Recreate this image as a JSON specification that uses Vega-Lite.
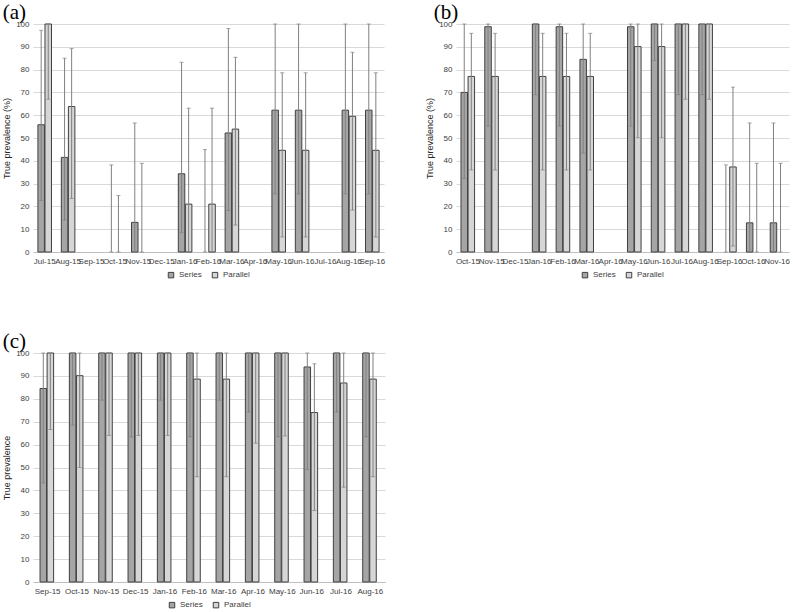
{
  "$schema": "https://vega.github.io/schema/vega-lite/v6.json",
  "padding": {"left": 2, "top": 2, "right": 2, "bottom": 0},
  "config": {
    "font": "Liberation Sans Narrow, Liberation Sans",
    "view": {"stroke": null},
    "axis": {"labelFontSize": 8, "labelColor": "#404040", "titleFontSize": 9, "titleFontWeight": "normal", "titleColor": "#262626", "gridColor": "#d9d9d9", "domainColor": "#bfbfbf", "tickColor": "#bfbfbf", "labelOverlap": false},
    "axisX": {"labelAngle": 0, "ticks": false, "grid": false, "labelOverlap": false, "labelPadding": 5},
    "axisY": {"domain": false, "ticks": false, "labelPadding": 4, "titlePadding": 4, "labelOverlap": false},
    "legend": {"orient": "bottom", "direction": "horizontal", "labelFontSize": 8, "labelColor": "#404040", "symbolType": "square", "symbolSize": 30, "symbolStrokeColor": "#404040", "symbolStrokeWidth": 1, "columnPadding": 8, "offset": 6, "layout": {"bottom": {"anchor": "middle"}}},
    "title": {"font": "Liberation Serif", "fontSize": 21, "fontWeight": "normal", "anchor": "start", "frame": "bounds", "color": "black", "offset": -3}
  },
  "datasets": {
    "a": [
      {"m": "Jul-15", "s": "Series", "v": 55.8, "lo": 22.6, "hi": 97.2},
      {"m": "Jul-15", "s": "Parallel", "v": 100, "lo": 67, "hi": 100},
      {"m": "Aug-15", "s": "Series", "v": 41.5, "lo": 14, "hi": 85},
      {"m": "Aug-15", "s": "Parallel", "v": 63.8, "lo": 23.5, "hi": 89.2},
      {"m": "Oct-15", "s": "Series", "v": null, "lo": 0, "hi": 38.2},
      {"m": "Oct-15", "s": "Parallel", "v": null, "lo": 0, "hi": 24.8},
      {"m": "Nov-15", "s": "Series", "v": 13, "lo": 0, "hi": 56.6},
      {"m": "Nov-15", "s": "Parallel", "v": null, "lo": 0, "hi": 38.9},
      {"m": "Jan-16", "s": "Series", "v": 34.3, "lo": 8.5, "hi": 83.2},
      {"m": "Jan-16", "s": "Parallel", "v": 21, "lo": 0, "hi": 63.1},
      {"m": "Feb-16", "s": "Series", "v": null, "lo": 0, "hi": 44.9},
      {"m": "Feb-16", "s": "Parallel", "v": 21, "lo": 0, "hi": 63.1},
      {"m": "Mar-16", "s": "Series", "v": 52.2, "lo": 18.2, "hi": 98},
      {"m": "Mar-16", "s": "Parallel", "v": 53.9, "lo": 11.8, "hi": 85.4},
      {"m": "May-16", "s": "Series", "v": 62.2, "lo": 25.5, "hi": 100},
      {"m": "May-16", "s": "Parallel", "v": 44.6, "lo": 6.6, "hi": 78.6},
      {"m": "Jun-16", "s": "Series", "v": 62.2, "lo": 25.5, "hi": 100},
      {"m": "Jun-16", "s": "Parallel", "v": 44.6, "lo": 6.6, "hi": 78.6},
      {"m": "Aug-16", "s": "Series", "v": 62.2, "lo": 25.5, "hi": 100},
      {"m": "Aug-16", "s": "Parallel", "v": 59.5, "lo": 18.4, "hi": 87.6},
      {"m": "Sep-16", "s": "Series", "v": 62.2, "lo": 25.5, "hi": 100},
      {"m": "Sep-16", "s": "Parallel", "v": 44.6, "lo": 6.6, "hi": 78.6}
    ],
    "b": [
      {"m": "Oct-15", "s": "Series", "v": 70, "lo": 32.2, "hi": 100},
      {"m": "Oct-15", "s": "Parallel", "v": 77, "lo": 36, "hi": 95.9},
      {"m": "Nov-15", "s": "Series", "v": 98.8, "lo": 55.2, "hi": 100},
      {"m": "Nov-15", "s": "Parallel", "v": 77, "lo": 36, "hi": 95.9},
      {"m": "Jan-16", "s": "Series", "v": 100, "lo": 69, "hi": 100},
      {"m": "Jan-16", "s": "Parallel", "v": 77, "lo": 36, "hi": 95.9},
      {"m": "Feb-16", "s": "Series", "v": 98.8, "lo": 55.2, "hi": 100},
      {"m": "Feb-16", "s": "Parallel", "v": 77, "lo": 36, "hi": 95.9},
      {"m": "Mar-16", "s": "Series", "v": 84.5, "lo": 43.4, "hi": 100},
      {"m": "Mar-16", "s": "Parallel", "v": 77, "lo": 36, "hi": 95.9},
      {"m": "May-16", "s": "Series", "v": 98.8, "lo": 55.2, "hi": 100},
      {"m": "May-16", "s": "Parallel", "v": 90.1, "lo": 50.1, "hi": 100},
      {"m": "Jun-16", "s": "Series", "v": 100, "lo": 84, "hi": 100},
      {"m": "Jun-16", "s": "Parallel", "v": 90.1, "lo": 50.1, "hi": 100},
      {"m": "Jul-16", "s": "Series", "v": 100, "lo": 69, "hi": 100},
      {"m": "Jul-16", "s": "Parallel", "v": 100, "lo": 67, "hi": 100},
      {"m": "Aug-16", "s": "Series", "v": 100, "lo": 69, "hi": 100},
      {"m": "Aug-16", "s": "Parallel", "v": 100, "lo": 67, "hi": 100},
      {"m": "Sep-16", "s": "Series", "v": null, "lo": 0, "hi": 38.2},
      {"m": "Sep-16", "s": "Parallel", "v": 37.3, "lo": 2.6, "hi": 72.3},
      {"m": "Oct-16", "s": "Series", "v": 12.8, "lo": 0, "hi": 56.6},
      {"m": "Oct-16", "s": "Parallel", "v": null, "lo": 0, "hi": 38.9},
      {"m": "Nov-16", "s": "Series", "v": 12.8, "lo": 0, "hi": 56.6},
      {"m": "Nov-16", "s": "Parallel", "v": null, "lo": 0, "hi": 38.9}
    ],
    "c": [
      {"m": "Sep-15", "s": "Series", "v": 84.5, "lo": 43.3, "hi": 100},
      {"m": "Sep-15", "s": "Parallel", "v": 100, "lo": 66.6, "hi": 100},
      {"m": "Oct-15", "s": "Series", "v": 100, "lo": 68.5, "hi": 100},
      {"m": "Oct-15", "s": "Parallel", "v": 90.1, "lo": 50, "hi": 100},
      {"m": "Nov-15", "s": "Series", "v": 100, "lo": 79.4, "hi": 100},
      {"m": "Nov-15", "s": "Parallel", "v": 100, "lo": 64, "hi": 100},
      {"m": "Dec-15", "s": "Series", "v": 100, "lo": 63.4, "hi": 100},
      {"m": "Dec-15", "s": "Parallel", "v": 100, "lo": 64, "hi": 100},
      {"m": "Jan-16", "s": "Series", "v": 100, "lo": 79.4, "hi": 100},
      {"m": "Jan-16", "s": "Parallel", "v": 100, "lo": 64, "hi": 100},
      {"m": "Feb-16", "s": "Series", "v": 100, "lo": 63.4, "hi": 100},
      {"m": "Feb-16", "s": "Parallel", "v": 88.6, "lo": 46, "hi": 100},
      {"m": "Mar-16", "s": "Series", "v": 100, "lo": 79.4, "hi": 100},
      {"m": "Mar-16", "s": "Parallel", "v": 88.6, "lo": 46, "hi": 100},
      {"m": "Apr-16", "s": "Series", "v": 100, "lo": 74.2, "hi": 100},
      {"m": "Apr-16", "s": "Parallel", "v": 100, "lo": 60.6, "hi": 100},
      {"m": "May-16", "s": "Series", "v": 100, "lo": 63.4, "hi": 100},
      {"m": "May-16", "s": "Parallel", "v": 100, "lo": 63.8, "hi": 100},
      {"m": "Jun-16", "s": "Series", "v": 93.9, "lo": 49.1, "hi": 100},
      {"m": "Jun-16", "s": "Parallel", "v": 74, "lo": 31.2, "hi": 95.3},
      {"m": "Jul-16", "s": "Series", "v": 100, "lo": 74.2, "hi": 100},
      {"m": "Jul-16", "s": "Parallel", "v": 86.9, "lo": 41.4, "hi": 100},
      {"m": "Aug-16", "s": "Series", "v": 100, "lo": 63.4, "hi": 100},
      {"m": "Aug-16", "s": "Parallel", "v": 88.6, "lo": 46, "hi": 100}
    ]
  },
  "spacing": 51,
  "resolve": {"scale": {"color": "independent", "x": "independent"}},
  "vconcat": [
    {
      "spacing": 40,
      "resolve": {"scale": {"color": "independent", "x": "independent"}},
      "hconcat": [
        {
          "title": {"text": "(a)"},
          "width": 351,
          "height": 228,
          "data": {"name": "a"},
          "resolve": {"axis": {"y": "independent"}},
          "encoding": {
            "x": {"field": "m", "type": "nominal", "title": null, "sort": null, "scale": {"domain": ["Jul-15", "Aug-15", "Sep-15", "Oct-15", "Nov-15", "Dec-15", "Jan-16", "Feb-16", "Mar-16", "Apr-16", "May-16", "Jun-16", "Jul-16", "Aug-16", "Sep-16"], "paddingInner": 0.42, "paddingOuter": 0.21}},
            "xOffset": {"field": "s", "type": "nominal", "scale": {"domain": ["Series", "Parallel"], "paddingInner": 0.08}}
          },
          "layer": [
            {"mark": {"type": "bar", "stroke": "#404040", "strokeWidth": 1},
             "encoding": {
               "y": {"field": "v", "type": "quantitative", "title": "True prevalence (%)", "scale": {"domain": [0, 100]}, "axis": {"values": [0, 10, 20, 30, 40, 50, 60, 70, 80, 90, 100], "tickCount": 12}},
               "color": {"field": "s", "type": "nominal", "title": null, "scale": {"domain": ["Series", "Parallel"], "range": ["#a5a5a5", "#d6d6d6"]}}
             }},
            {"mark": {"type": "rule", "color": "#808080", "strokeWidth": 1},
             "encoding": {"y": {"field": "lo", "type": "quantitative", "axis": null}, "y2": {"field": "hi"}}},
            {"mark": {"type": "tick", "color": "#808080", "size": 4, "thickness": 1},
             "encoding": {"y": {"field": "lo", "type": "quantitative", "axis": null}}},
            {"mark": {"type": "tick", "color": "#808080", "size": 4, "thickness": 1},
             "encoding": {"y": {"field": "hi", "type": "quantitative", "axis": null}}}
          ]
        },
        {
          "title": {"text": "(b)", "dx": 8},
          "width": 333,
          "height": 228,
          "data": {"name": "b"},
          "resolve": {"axis": {"y": "independent"}},
          "encoding": {
            "x": {"field": "m", "type": "nominal", "title": null, "sort": null, "scale": {"domain": ["Oct-15", "Nov-15", "Dec-15", "Jan-16", "Feb-16", "Mar-16", "Apr-16", "May-16", "Jun-16", "Jul-16", "Aug-16", "Sep-16", "Oct-16", "Nov-16"], "paddingInner": 0.42, "paddingOuter": 0.21}},
            "xOffset": {"field": "s", "type": "nominal", "scale": {"domain": ["Series", "Parallel"], "paddingInner": 0.08}}
          },
          "layer": [
            {"mark": {"type": "bar", "stroke": "#404040", "strokeWidth": 1},
             "encoding": {
               "y": {"field": "v", "type": "quantitative", "title": "True prevalence (%)", "scale": {"domain": [0, 100]}, "axis": {"values": [0, 10, 20, 30, 40, 50, 60, 70, 80, 90, 100], "tickCount": 12}},
               "color": {"field": "s", "type": "nominal", "title": null, "scale": {"domain": ["Series", "Parallel"], "range": ["#a5a5a5", "#d6d6d6"]}}
             }},
            {"mark": {"type": "rule", "color": "#808080", "strokeWidth": 1},
             "encoding": {"y": {"field": "lo", "type": "quantitative", "axis": null}, "y2": {"field": "hi"}}},
            {"mark": {"type": "tick", "color": "#808080", "size": 4, "thickness": 1},
             "encoding": {"y": {"field": "lo", "type": "quantitative", "axis": null}}},
            {"mark": {"type": "tick", "color": "#808080", "size": 4, "thickness": 1},
             "encoding": {"y": {"field": "hi", "type": "quantitative", "axis": null}}}
          ]
        }
      ]
    },
    {
      "title": {"text": "(c)"},
      "width": 352,
      "height": 229,
      "data": {"name": "c"},
      "resolve": {"axis": {"y": "independent"}},
      "encoding": {
        "x": {"field": "m", "type": "nominal", "title": null, "sort": null, "scale": {"domain": ["Sep-15", "Oct-15", "Nov-15", "Dec-15", "Jan-16", "Feb-16", "Mar-16", "Apr-16", "May-16", "Jun-16", "Jul-16", "Aug-16"], "paddingInner": 0.48, "paddingOuter": 0.24}},
        "xOffset": {"field": "s", "type": "nominal", "scale": {"domain": ["Series", "Parallel"], "paddingInner": 0.08}}
      },
      "layer": [
        {"mark": {"type": "bar", "stroke": "#404040", "strokeWidth": 1},
         "encoding": {
           "y": {"field": "v", "type": "quantitative", "title": "True prevalence", "scale": {"domain": [0, 100]}, "axis": {"values": [0, 10, 20, 30, 40, 50, 60, 70, 80, 90, 100], "tickCount": 12}},
           "color": {"field": "s", "type": "nominal", "title": null, "scale": {"domain": ["Series", "Parallel"], "range": ["#a5a5a5", "#d6d6d6"]}}
         }},
        {"mark": {"type": "rule", "color": "#808080", "strokeWidth": 1},
         "encoding": {"y": {"field": "lo", "type": "quantitative", "axis": null}, "y2": {"field": "hi"}}},
        {"mark": {"type": "tick", "color": "#808080", "size": 4, "thickness": 1},
         "encoding": {"y": {"field": "lo", "type": "quantitative", "axis": null}}},
        {"mark": {"type": "tick", "color": "#808080", "size": 4, "thickness": 1},
         "encoding": {"y": {"field": "hi", "type": "quantitative", "axis": null}}}
      ]
    }
  ]
}
